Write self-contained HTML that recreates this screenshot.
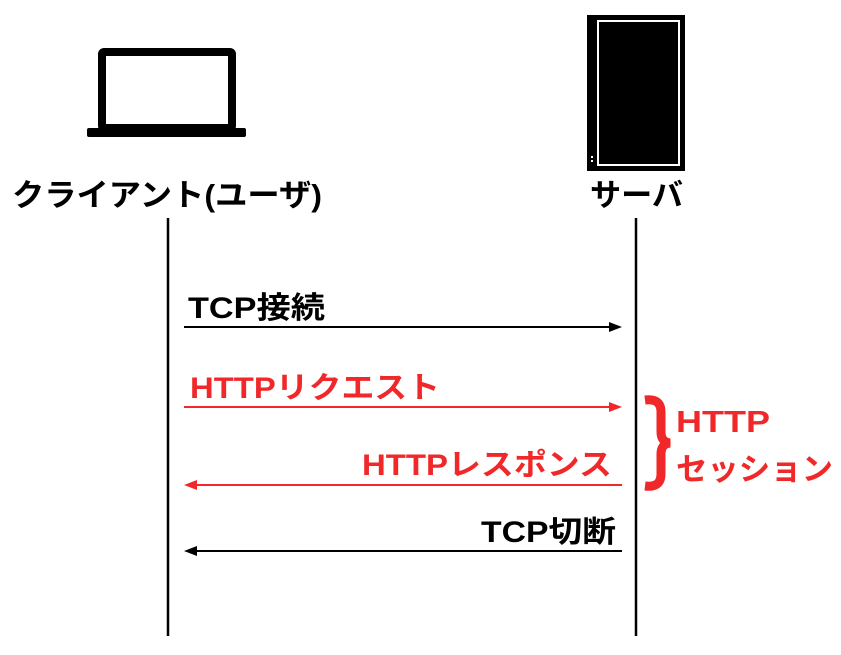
<!DOCTYPE html><html><head><meta charset="utf-8"><style>
body{margin:0;background:#fff;width:841px;height:650px;overflow:hidden}
text{font-family:"Liberation Sans","Noto Sans CJK JP",sans-serif;font-weight:bold}
</style></head><body>
<svg width="841" height="650" viewBox="0 0 841 650">
<rect x="102" y="52" width="130" height="76" fill="none" stroke="#000" stroke-width="8" rx="2"/>
<rect x="87" y="128" width="159" height="9" fill="#000" rx="2"/>
<rect x="587" y="15" width="98" height="156" fill="#000"/>
<rect x="598" y="21" width="81" height="144" fill="none" stroke="#fff" stroke-width="2"/>
<rect x="591" y="156" width="2" height="2" fill="#fff"/><rect x="591" y="160" width="2" height="2" fill="#fff"/>
<text x="12" y="206" font-size="31" textLength="310" lengthAdjust="spacingAndGlyphs">クライアント(ユーザ)</text>
<text x="590" y="206" font-size="31" textLength="93" lengthAdjust="spacingAndGlyphs">サーバ</text>
<line x1="168" y1="218" x2="168" y2="636" stroke="#000" stroke-width="2.5"/>
<line x1="636" y1="218" x2="636" y2="636" stroke="#000" stroke-width="2.5"/>
<g stroke-width="2">
<line x1="184" y1="327" x2="612" y2="327" stroke="#000"/><polygon points="622,327 609,322 609,332" fill="#000"/>
<line x1="184" y1="407" x2="612" y2="407" stroke="#f0282a"/><polygon points="622,407 609,402 609,412" fill="#f0282a"/>
<line x1="194" y1="485" x2="622" y2="485" stroke="#f0282a"/><polygon points="184,485 197,480 197,490" fill="#f0282a"/>
<line x1="194" y1="551" x2="622" y2="551" stroke="#000"/><polygon points="184,551 197,546 197,556" fill="#000"/>
</g>
<text x="188" y="318" font-size="30" textLength="137" lengthAdjust="spacingAndGlyphs">TCP接続</text>
<text x="190" y="398" font-size="30" fill="#f0282a" textLength="250" lengthAdjust="spacingAndGlyphs">HTTPリクエスト</text>
<text x="362" y="475" font-size="30" fill="#f0282a" textLength="250" lengthAdjust="spacingAndGlyphs">HTTPレスポンス</text>
<text x="481" y="542" font-size="30" textLength="135" lengthAdjust="spacingAndGlyphs">TCP切断</text>
<path d="M645,400 Q661,398 661,412 L661,432 Q661,442 670,443 Q661,444 661,454 L661,474 Q661,488 645,486" fill="none" stroke="#f0282a" stroke-width="9"/>
<text x="676" y="432" font-size="31" fill="#f0282a" textLength="94" lengthAdjust="spacingAndGlyphs">HTTP</text>
<text x="676" y="480" font-size="31" fill="#f0282a" textLength="157" lengthAdjust="spacingAndGlyphs">セッション</text>
</svg></body></html>
